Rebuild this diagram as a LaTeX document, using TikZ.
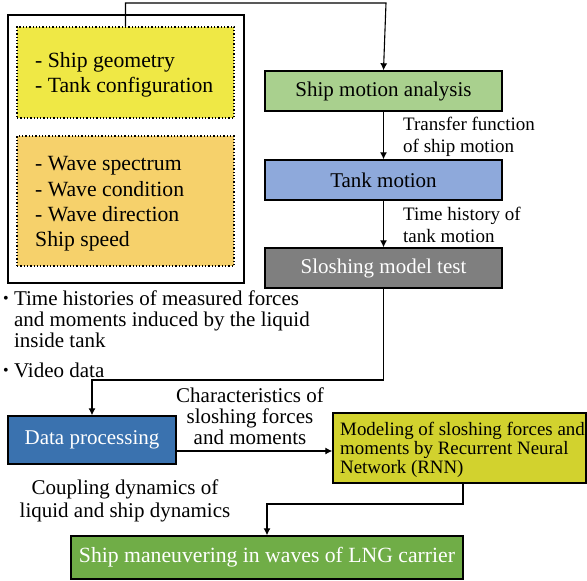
\documentclass[tikz,border=0pt]{standalone}
\usepackage{fontspec}
\setmainfont{Liberation Serif}
\usetikzlibrary{arrows.meta,positioning,calc}
\definecolor{yelbox}{HTML}{EFE845}
\definecolor{orabox}{HTML}{F6D16B}
\definecolor{greenbox}{HTML}{A9D08E}
\definecolor{bluebox}{HTML}{8EA9DB}
\definecolor{graybox}{HTML}{7F7F7F}
\definecolor{dpblue}{HTML}{3A72AF}
\definecolor{rnnbox}{HTML}{D2D22E}
\definecolor{manbox}{HTML}{70AD47}
\newcommand{\bul}{{\fontsize{16}{16}\selectfont\raisebox{2pt}{\textbullet}}}

\begin{document}
\begin{tikzpicture}[x=1pt,y=-1pt,
  box/.style={draw,line width=1.4pt,minimum width=237pt,minimum height=40pt,inner sep=0pt,font=\fontsize{21}{25}\selectfont},
  dotbox/.style={draw,dotted,line width=1.3pt,minimum width=217pt,inner sep=0pt},
  lbl/.style={font=\fontsize{19}{22}\selectfont,align=left,inner sep=0pt},
  txt/.style={font=\fontsize{21}{21}\selectfont,inner sep=0pt},
  arr/.style={line width=1.1pt,-{Latex[length=7pt,width=7pt]}}]
\useasboundingbox (0,0) rectangle (587,581);
% inputs
\draw[line width=1.4pt] (8,15) rectangle (244,283);
\node[dotbox,fill=yelbox,minimum height=91pt] (geo) at (125.5,72.5) {};
\node[dotbox,fill=orabox,minimum height=130pt] (wave) at (125.5,201) {};
\node[txt,anchor=west,align=left,font=\fontsize{21.7}{25}\selectfont] at (35,74.5) {- Ship geometry\\- Tank configuration};
\node[txt,anchor=west,align=left,font=\fontsize{21.7}{25.3}\selectfont] at (35,204) {- Wave spectrum\\- Wave condition\\- Wave direction\\Ship speed};
% main chain
\node[box,fill=greenbox] (sma) at (383.5,91) {Ship motion analysis};
\node[box,fill=bluebox] (tm) at (383.5,180) {Tank motion};
\node[box,fill=graybox,text=white] (smt) at (383.5,268) {Sloshing model test};
\node[box,fill=dpblue,text=white,minimum width=168pt,minimum height=48pt] (dp) at (92,440) {Data processing};
\node[box,fill=rnnbox,minimum width=253pt,minimum height=70pt] (rnn) at (459.5,448) {};
\node[anchor=west,align=left,inner sep=0pt,font=\fontsize{18.9}{18.7}\selectfont] at (340,450) {Modeling of sloshing forces and\\moments by Recurrent Neural\\Network (RNN)};
\node[box,fill=manbox,text=white,minimum width=392pt,minimum height=43pt,font=\fontsize{21.7}{25}\selectfont] (smw) at (267,557.5) {Ship maneuvering in waves of LNG carrier};
% labels
\node[lbl,anchor=west] at (403,137) {Transfer function\\of ship motion};
\node[lbl,anchor=west] at (403,225) {Time history of\\tank motion};
\node[txt,anchor=north west,align=left] at (3,291) {\bul\ Time histories of measured forces\\\phantom{\bul} and moments induced by the liquid\\\phantom{\bul} inside tank};
\node[txt,anchor=west] at (3,370) {\bul\ Video data};
\node[txt,align=center] at (250,416) {Characteristics of\\sloshing forces\\and moments};
\node[txt,align=center,font=\fontsize{21}{23}\selectfont] at (125,501) {Coupling dynamics of\\liquid and ship dynamics};
% connectors
\coordinate (top) at (386,3);
\coordinate (mid) at (0,380);
\coordinate (low) at (463,504);
\draw[arr] (geo.north) |- (top) -- (sma.north);
\draw[arr] (sma) -- (tm);
\draw[arr] (tm) -- (smt);
\draw[arr] (smt.south) -- (smt.south |- mid) -| (dp.north);
\draw[arr] ([yshift=-11pt]dp.east) -- ([yshift=-11pt]dp.east -| rnn.west);
\draw[arr] (rnn.south -| low) -- (low) -| (smw.north);
\end{tikzpicture}
\end{document}
